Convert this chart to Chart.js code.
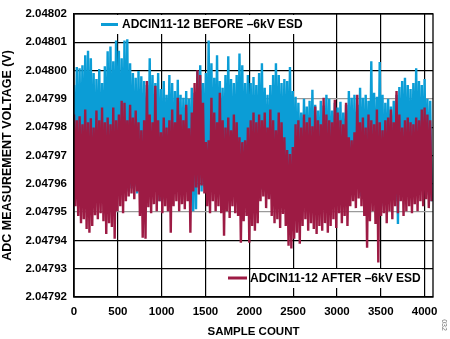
<!DOCTYPE html>
<html>
<head>
<meta charset="utf-8">
<script src="https://cdn.jsdelivr.net/npm/chart.js@4.4.0/dist/chart.umd.min.js"></script>
<style>
  html, body { margin: 0; padding: 0; background: #fff; }
  #wrap { width: 450px; height: 339px; position: relative; }
</style>
</head>
<body>
<div id="wrap"><canvas id="esdChart" width="450" height="339"></canvas></div>
<script>
// Leituras do ADC: para cada janela de 32 amostras, o pico e o vale do ruído
const SAMPLE_STEP = 32;

const xTicks = [0, 500, 1000, 1500, 2000, 2500, 3000, 3500, 4000];
const yTicks = [2.04792, 2.04793, 2.04794, 2.04795, 2.04796, 2.04797, 2.04798, 2.04799, 2.04800, 2.04801, 2.04802];
const xMax = 4096;

const labelBefore = 'ADCIN11-12 BEFORE \u20136kV ESD';
const labelAfter = 'ADCIN11-12 AFTER \u20136kV ESD';

const beforePeaks = [
  2.0479949, 2.0480012, 2.0480008, 2.0480019, 2.0480054, 2.0480070, 2.0480043, 2.0479991,
  2.0479970, 2.0480005, 2.0479956, 2.0480015, 2.0480068, 2.0480085, 2.0480033, 2.0480106,
  2.0480070, 2.0480043, 2.0480106, 2.0480110, 2.0480026, 2.0479991, 2.0479974, 2.0479998,
  2.0479980, 2.0479963, 2.0479949, 2.0480043, 2.0479984, 2.0479956, 2.0479991, 2.0479935,
  2.0479963, 2.0479914, 2.0479984, 2.0479956, 2.0479928, 2.0479967, 2.0479914, 2.0479904,
  2.0479928, 2.0479900, 2.0479939, 2.0479921, 2.0479998, 2.0480019, 2.0479956, 2.0479991,
  2.0480106, 2.0480026, 2.0479974, 2.0480054, 2.0479963, 2.0479939, 2.0479984, 2.0480050,
  2.0479970, 2.0479956, 2.0479984, 2.0480060, 2.0480019, 2.0479956, 2.0479984, 2.0479956,
  2.0479977, 2.0479949, 2.0479991, 2.0480026, 2.0479939, 2.0479914, 2.0479949, 2.0479984,
  2.0480026, 2.0479984, 2.0479956, 2.0479970, 2.0479963, 2.0480012, 2.0479928, 2.0479907,
  2.0479886, 2.0479852, 2.0479900, 2.0479873, 2.0479893, 2.0479932, 2.0479879, 2.0479859,
  2.0479893, 2.0479876, 2.0479914, 2.0479900, 2.0479859, 2.0479886, 2.0479869, 2.0479890,
  2.0479852, 2.0479879, 2.0479928, 2.0479904, 2.0479914, 2.0479879, 2.0479939, 2.0479904,
  2.0479914, 2.0479893, 2.0480033, 2.0479921, 2.0479907, 2.0480030, 2.0479914, 2.0479886,
  2.0479900, 2.0479873, 2.0479893, 2.0479914, 2.0479942, 2.0479963, 2.0479974, 2.0479949,
  2.0479935, 2.0479956, 2.0480008, 2.0479963, 2.0479949, 2.0479970, 2.0479900, 2.0479893
];

const beforeTroughs = [
  2.0479580, 2.0479590, 2.0479566, 2.0479587, 2.0479573, 2.0479594, 2.0479555, 2.0479580,
  2.0479587, 2.0479566, 2.0479590, 2.0479573, 2.0479583, 2.0479562, 2.0479590, 2.0479576,
  2.0479587, 2.0479566, 2.0479594, 2.0479573, 2.0479583, 2.0479590, 2.0479566, 2.0479580,
  2.0479587, 2.0479573, 2.0479590, 2.0479562, 2.0479583, 2.0479576, 2.0479538, 2.0479545,
  2.0479587, 2.0479573, 2.0479590, 2.0479566, 2.0479583, 2.0479576, 2.0479590, 2.0479566,
  2.0479587, 2.0479573, 2.0479503, 2.0479510, 2.0479587, 2.0479573, 2.0479590, 2.0479566,
  2.0479583, 2.0479573, 2.0479590, 2.0479562, 2.0479580, 2.0479587, 2.0479573, 2.0479590,
  2.0479566, 2.0479583, 2.0479576, 2.0479590, 2.0479562, 2.0479580, 2.0479587, 2.0479573,
  2.0479590, 2.0479566, 2.0479580, 2.0479573, 2.0479587, 2.0479548, 2.0479580, 2.0479590,
  2.0479566, 2.0479583, 2.0479573, 2.0479590, 2.0479562, 2.0479580, 2.0479587, 2.0479573,
  2.0479590, 2.0479566, 2.0479583, 2.0479576, 2.0479590, 2.0479562, 2.0479580, 2.0479587,
  2.0479573, 2.0479566, 2.0479545, 2.0479583, 2.0479590, 2.0479573, 2.0479580, 2.0479566,
  2.0479587, 2.0479573, 2.0479590, 2.0479566, 2.0479580, 2.0479587, 2.0479555, 2.0479580,
  2.0479590, 2.0479566, 2.0479583, 2.0479573, 2.0479590, 2.0479562, 2.0479521, 2.0479580,
  2.0479587, 2.0479573, 2.0479538, 2.0479458, 2.0479580, 2.0479590, 2.0479566, 2.0479583,
  2.0479573, 2.0479590, 2.0479562, 2.0479580, 2.0479587, 2.0479573, 2.0479562, 2.0479538
];

const afterPeaks = [
  2.0479845, 2.0479824, 2.0479838, 2.0479810, 2.0479862, 2.0479817, 2.0479831, 2.0479799,
  2.0479859, 2.0479824, 2.0479869, 2.0479817, 2.0479834, 2.0479810, 2.0479869, 2.0479824,
  2.0479845, 2.0479893, 2.0479886, 2.0479824, 2.0479879, 2.0479834, 2.0479859, 2.0479817,
  2.0479789, 2.0479824, 2.0479963, 2.0479845, 2.0479817, 2.0479946, 2.0479824, 2.0479782,
  2.0479834, 2.0479799, 2.0479824, 2.0479862, 2.0479817, 2.0479904, 2.0479845, 2.0479824,
  2.0479879, 2.0479796, 2.0479852, 2.0479956, 2.0480001, 2.0479984, 2.0479886, 2.0479747,
  2.0479754, 2.0479904, 2.0479852, 2.0479817, 2.0479921, 2.0479824, 2.0479799, 2.0479834,
  2.0479789, 2.0479845, 2.0479817, 2.0479764, 2.0479747, 2.0479754, 2.0479799, 2.0479824,
  2.0479852, 2.0479817, 2.0479845, 2.0479824, 2.0479852, 2.0479799, 2.0479862, 2.0479824,
  2.0479789, 2.0479852, 2.0479817, 2.0479764, 2.0479719, 2.0479705, 2.0479730, 2.0479810,
  2.0479824, 2.0479799, 2.0479845, 2.0479817, 2.0479834, 2.0479803, 2.0479873, 2.0479824,
  2.0479810, 2.0479904, 2.0479845, 2.0479824, 2.0479817, 2.0479897, 2.0479852, 2.0479824,
  2.0479810, 2.0479886, 2.0479764, 2.0479754, 2.0479782, 2.0479914, 2.0479817, 2.0479834,
  2.0479799, 2.0479845, 2.0479824, 2.0479810, 2.0479862, 2.0479817, 2.0479789, 2.0479824,
  2.0479834, 2.0479862, 2.0479817, 2.0479928, 2.0479845, 2.0479799, 2.0479824, 2.0479834,
  2.0479817, 2.0479810, 2.0479834, 2.0479824, 2.0479862, 2.0479869, 2.0479845, 2.0479824
];

const afterTroughs = [
  2.0479521, 2.0479486, 2.0479461, 2.0479475, 2.0479440, 2.0479427, 2.0479451, 2.0479489,
  2.0479475, 2.0479496, 2.0479468, 2.0479423, 2.0479461, 2.0479447, 2.0479406, 2.0479503,
  2.0479521, 2.0479496, 2.0479538, 2.0479555, 2.0479566, 2.0479545, 2.0479573, 2.0479486,
  2.0479409, 2.0479406, 2.0479517, 2.0479496, 2.0479528, 2.0479503, 2.0479538, 2.0479496,
  2.0479521, 2.0479503, 2.0479427, 2.0479521, 2.0479538, 2.0479503, 2.0479528, 2.0479510,
  2.0479538, 2.0479427, 2.0479573, 2.0479587, 2.0479562, 2.0479594, 2.0479566, 2.0479521,
  2.0479496, 2.0479538, 2.0479503, 2.0479521, 2.0479496, 2.0479416, 2.0479503, 2.0479479,
  2.0479521, 2.0479496, 2.0479486, 2.0479392, 2.0479468, 2.0479486, 2.0479392, 2.0479451,
  2.0479434, 2.0479461, 2.0479538, 2.0479555, 2.0479514, 2.0479545, 2.0479486, 2.0479461,
  2.0479475, 2.0479444, 2.0479493, 2.0479451, 2.0479381, 2.0479371, 2.0479406, 2.0479427,
  2.0479388, 2.0479451, 2.0479475, 2.0479434, 2.0479461, 2.0479440, 2.0479423, 2.0479451,
  2.0479434, 2.0479461, 2.0479427, 2.0479451, 2.0479475, 2.0479444, 2.0479496, 2.0479461,
  2.0479486, 2.0479451, 2.0479521, 2.0479538, 2.0479514, 2.0479548, 2.0479521, 2.0479486,
  2.0479374, 2.0479468, 2.0479503, 2.0479458, 2.0479322, 2.0479486, 2.0479496, 2.0479461,
  2.0479503, 2.0479475, 2.0479521, 2.0479496, 2.0479538, 2.0479486, 2.0479503, 2.0479521,
  2.0479496, 2.0479528, 2.0479503, 2.0479538, 2.0479521, 2.0479545, 2.0479514, 2.0479538
];

const blue = '#0b9dd6';
const maroon = '#9d1b44';
const fontFamily = '"Liberation Sans", Arial, sans-serif';

// monta a série alternando pico e vale dentro de cada janela
function buildSeries(peaks, troughs) {
    const pts = [];
    peaks.forEach((p, i) => {
        pts.push({ x: i * SAMPLE_STEP, y: p });
        pts.push({ x: i * SAMPLE_STEP + SAMPLE_STEP / 2, y: troughs[i] });
    });
    return pts;
}

// legendas internas com fundo branco, moldura e marca lateral
const overlayPlugin = {
    id: 'overlay',
    afterDatasetsDraw(chart) {
        const ctx = chart.ctx;
        const a = chart.chartArea;
        ctx.save();
        ctx.strokeStyle = '#000';
        ctx.lineWidth = 1.3;
        ctx.strokeRect(a.left, a.top, a.right - a.left, a.bottom - a.top);

        const items = [
            { text: labelBefore, color: blue, boxL: 97, boxR: 306, boxT: 15, boxB: 34, lineL: 101, lineR: 118, textX: 122, y: 24.5 },
            { text: labelAfter, color: maroon, boxL: 251, boxR: 422, boxT: 269, boxB: 288, lineL: 228, lineR: 247, textX: 250, y: 278 }
        ];
        items.forEach(it => {
            ctx.fillStyle = '#fff';
            ctx.fillRect(it.boxL, it.boxT, it.boxR - it.boxL, it.boxB - it.boxT);
            ctx.strokeStyle = it.color;
            ctx.lineWidth = 3;
            ctx.beginPath();
            ctx.moveTo(it.lineL, it.y);
            ctx.lineTo(it.lineR, it.y);
            ctx.stroke();
            ctx.fillStyle = '#000';
            ctx.font = 'bold 12px ' + fontFamily;
            ctx.textBaseline = 'middle';
            ctx.textAlign = 'left';
            ctx.fillText(it.text, it.textX, it.y + 0.5);
        });

        // código da figura no canto
        ctx.translate(444, 325);
        ctx.rotate(Math.PI / 2);
        ctx.fillStyle = '#777';
        ctx.font = '7px ' + fontFamily;
        ctx.textAlign = 'center';
        ctx.fillText('032', 0, 0);
        ctx.restore();
    }
};

function createChart() {
    const ctx = document.getElementById('esdChart').getContext('2d');
    new Chart(ctx, {
        type: 'line',
        data: {
            datasets: [
                {
                    label: labelBefore,
                    data: buildSeries(beforePeaks, beforeTroughs),
                    borderColor: blue,
                    borderWidth: 2.4,
                    pointRadius: 0,
                    tension: 0,
                    order: 2
                },
                {
                    label: labelAfter,
                    data: buildSeries(afterPeaks, afterTroughs),
                    borderColor: maroon,
                    borderWidth: 2.4,
                    pointRadius: 0,
                    tension: 0,
                    order: 1
                }
            ]
        },
        options: {
            responsive: false,
            animation: false,
            layout: { padding: { top: 10, right: 17, left: 0, bottom: 0 } },
            plugins: {
                legend: { display: false },
                tooltip: { enabled: false }
            },
            scales: {
                x: {
                    type: 'linear',
                    min: 0,
                    max: xMax,
                    afterBuildTicks: s => { s.ticks = xTicks.map(v => ({ value: v })); },
                    afterFit: s => { s.height = 42; },
                    grid: { color: '#000', lineWidth: 1.2, drawTicks: false },
                    border: { color: '#000', width: 1.3 },
                    ticks: {
                        color: '#000',
                        padding: 8,
                        maxRotation: 0,
                        font: { family: fontFamily, size: 11.5, weight: 'bold' },
                        callback: v => String(v)
                    },
                    title: {
                        display: true,
                        text: 'SAMPLE COUNT',
                        color: '#000',
                        padding: { top: 4, bottom: 0 },
                        font: { family: fontFamily, size: 11.5, weight: 'bold' }
                    }
                },
                y: {
                    min: yTicks[0],
                    max: yTicks[yTicks.length - 1],
                    afterBuildTicks: s => { s.ticks = yTicks.map(v => ({ value: v })); },
                    afterFit: s => { s.width = 74; },
                    grid: {
                        color: c => {
                            const v = c.tick ? c.tick.value.toFixed(5) : '';
                            return (v === '2.04799' || v === '2.04795') ? '#9a9a9a' : '#000';
                        },
                        lineWidth: 1.2,
                        drawTicks: false
                    },
                    border: { color: '#000', width: 1.3 },
                    ticks: {
                        color: '#000',
                        padding: 7,
                        font: { family: fontFamily, size: 11.5, weight: 'bold' },
                        callback: v => v.toFixed(5)
                    },
                    title: {
                        display: true,
                        text: 'ADC MEASUREMENT VOLTAGE (V)',
                        color: '#000',
                        padding: { top: 0, bottom: 1 },
                        font: { family: fontFamily, size: 12.5, weight: 'bold' }
                    }
                }
            }
        },
        plugins: [overlayPlugin]
    });
}

window.onload = createChart;
</script>
</body>
</html>
